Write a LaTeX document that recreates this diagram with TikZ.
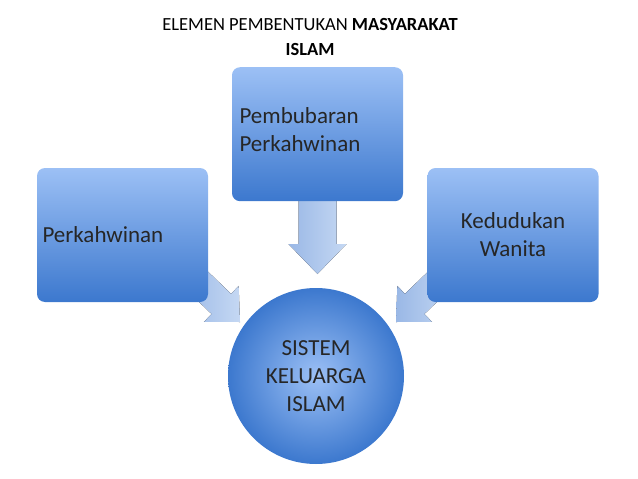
\documentclass[tikz,border=0pt]{standalone}
\usepackage{fontspec}
\setmainfont{Carlito}
\definecolor{btop}{HTML}{9CC0F5}
\definecolor{bbot}{HTML}{3C78CE}
\definecolor{atop}{HTML}{C5D8F3}
\definecolor{abot}{HTML}{9AB8E6}
\tikzset{
 box/.style={rounded corners=8pt, top color=btop, bottom color=bbot, minimum width=171pt, minimum height=134pt, inner sep=4pt, font=\fontsize{23}{28}\selectfont, text=black!85},
 circ/.style={circle, inner color=btop, outer color=bbot, minimum size=176pt, font=\fontsize{23}{28}\selectfont, align=center, text=black!85},
 barrowfill/.style={left color=abot, right color=atop}
}
\begin{document}
\begin{tikzpicture}[x=1pt,y=1pt]
\useasboundingbox (0,0) rectangle (638,-479);
\node[font=\fontsize{18.5}{25}\selectfont, align=center] (title) at (310,-37) {ELEMEN PEMBENTUKAN \textbf{MASYARAKAT}\\\textbf{ISLAM}};
% middle arrow
\coordinate (amt) at (317.5,-274);
\begin{scope}[shift={(amt)}, rotate=90]
\fill[barrowfill] (0,0) -- (30,29) -- (30,19) -- (80,19) -- (80,-19) -- (30,-19) -- (30,-29) -- cycle;
\end{scope}
% left arrow
\coordinate (alt) at (240,-322);
\begin{scope}[shift={(alt)}, rotate=136]
\fill[barrowfill] (0,0) -- (26,25) -- (26,14) -- (70,14) -- (70,-14) -- (26,-14) -- (26,-25) -- cycle;
\end{scope}
% right arrow
\coordinate (art) at (396,-322);
\begin{scope}[shift={(art)}, rotate=44]
\fill[barrowfill] (0,0) -- (26,25) -- (26,14) -- (70,14) -- (70,-14) -- (26,-14) -- (26,-25) -- cycle;
\end{scope}
\node[box, align=left, text width=160pt] (l) at (122.5,-235) {Perkahwinan};
\node[box, anchor=north] (m) at (317.5,-67) {};
\node[align=left, font=\fontsize{23}{28}\selectfont, text=black!85, anchor=north west] (mt) at (236,-104) {Pembubaran\\Perkahwinan};
\node[box, align=center] (r) at (513,-235) {Kedudukan\\Wanita};
\node[circ] (c) at (316,-376) {SISTEM\\KELUARGA\\ISLAM};
\end{tikzpicture}
\end{document}
